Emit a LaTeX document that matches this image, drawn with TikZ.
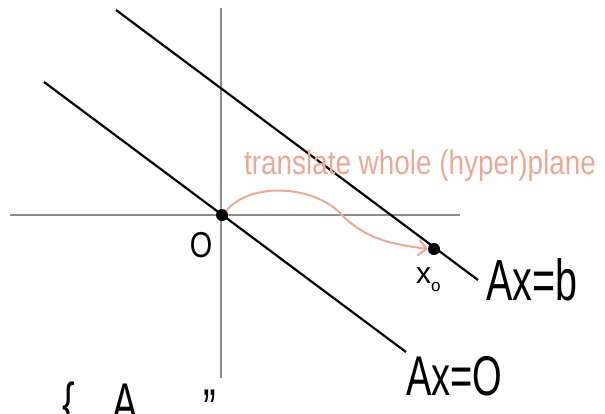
\documentclass[tikz,border=0pt]{standalone}
\usepackage{fontspec}
\usepackage{graphicx}
\setmainfont{Liberation Sans}
\usetikzlibrary{arrows.meta}
\definecolor{salmon}{RGB}{236,168,150}
\definecolor{axisgray}{RGB}{140,140,140}
\tikzset{
  axis/.style={draw=axisgray, line width=2.2pt},
  plane/.style={draw=black, line width=2.2pt},
  pt/.style={circle, fill=black, inner sep=0pt, minimum size=12pt},
  lbl/.style={inner sep=0pt, text=black},
  note/.style={inner sep=0pt, text=salmon},
}
\begin{document}
\begin{tikzpicture}[x=1pt,y=-1pt]
\useasboundingbox (0,0) rectangle (605,413);
\clip (0,0) rectangle (605,413);
% axes
\coordinate (vt) at (221,8);
\coordinate (vb) at (221,378);
\coordinate (hl) at (10,215);
\coordinate (hr) at (460,215);
\draw[axis] (vt) -- (vb);
\draw[axis] (hl) -- (hr);
% planes
\coordinate (p1a) at (44,82);
\coordinate (p1b) at (406,352);
\coordinate (p2a) at (116,10);
\coordinate (p2b) at (478,280);
\draw[plane] (p1a) -- (p1b);
\draw[plane] (p2a) -- (p2b);
% points
\node[pt] (o) at (222,215) {};
\node[pt] (x0) at (434,249) {};
% arrow
\draw[salmon, line width=2pt, -{Straight Barb[length=8pt,width=16pt]}]
  (o.north east) .. controls (250,182) and (312,185) .. (340,213)
  .. controls (366,240) and (392,244) .. (x0.west);
% labels
\node[note, anchor=base] (t) at (420,174) {\scalebox{0.82}[1]{\fontsize{34}{34}\selectfont translate whole (hyper)plane}};
\node[lbl] (ol) at (201,245) {\scalebox{0.8}[1]{\fontsize{36}{36}\selectfont O}};
\node[lbl, anchor=base west] (xl) at (416,283) {\fontsize{30}{30}\selectfont x\raisebox{-8pt}{\fontsize{17}{17}\selectfont o}};
\node[lbl, anchor=base west] (ab) at (486,300) {\scalebox{0.68}[1]{\fontsize{58}{58}\selectfont Ax=b}};
\node[lbl, anchor=base west] (a0) at (406,395) {\scalebox{0.68}[1]{\fontsize{56}{56}\selectfont Ax=O}};
% cut-off text at bottom
\node[lbl, anchor=base west] (cut) at (62,422) {\scalebox{0.68}[1]{\fontsize{56}{56}\selectfont \{\,\,\,\,\,\,A}};
\node[lbl, anchor=base west] (q) at (203,428) {\scalebox{0.68}[1]{\fontsize{56}{56}\selectfont ''}};
\end{tikzpicture}
\end{document}
